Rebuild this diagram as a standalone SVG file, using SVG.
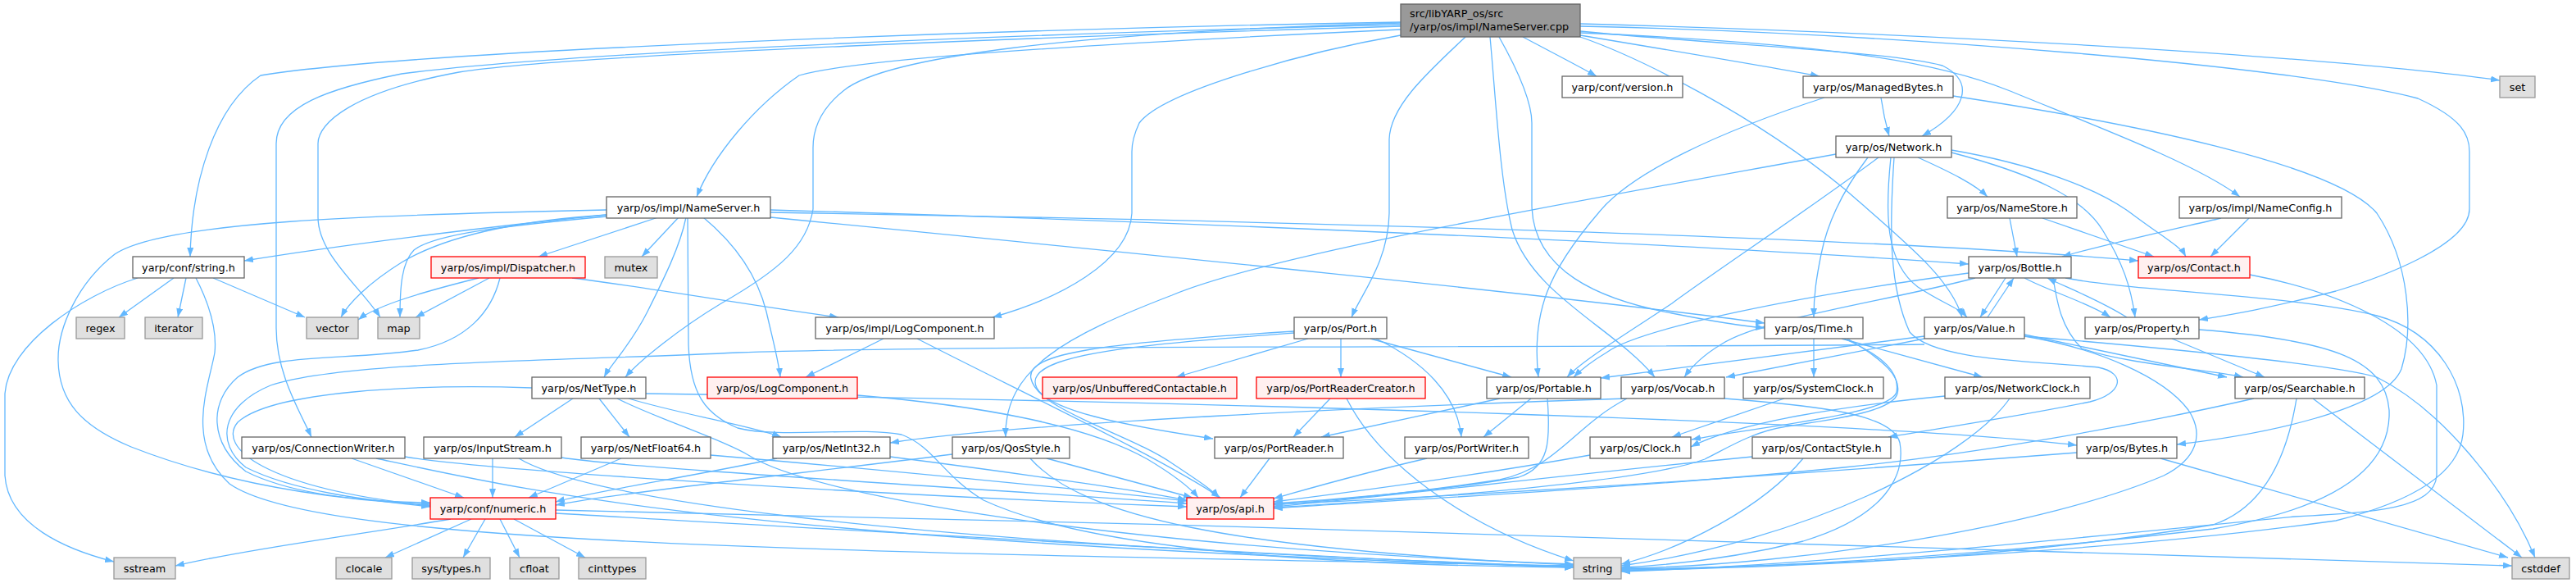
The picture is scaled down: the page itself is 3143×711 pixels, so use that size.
<svg xmlns="http://www.w3.org/2000/svg" width="3143" height="711" viewBox="0 0 3143 711">
<defs>
<marker id="ah" viewBox="0 0 11 8" refX="11" refY="4" markerWidth="11" markerHeight="8" orient="auto" markerUnits="userSpaceOnUse"><path d="M0,0L11,4L0,8z" fill="#63b8ff"/></marker>
</defs>
<style>
.e path{fill:none;stroke:#63b8ff;stroke-width:1.3;marker-end:url(#ah)}
.n rect{fill:#ffffff;stroke:#666666;stroke-width:1.3}
.r rect{fill:#fff0f0;stroke:#ff0000}
.g rect{fill:#e0e0e0;stroke:#999999}
.root rect{fill:#999999;stroke:#666666}
text{font-family:"DejaVu Sans","Liberation Sans",sans-serif;font-size:12.8px;text-anchor:middle;fill:#000000}
.root text{text-anchor:start}
</style>
<rect width="3143" height="711" fill="#ffffff"/>
<g id="edges" class="e">
<path d="M1709,27 C1200,36 500,62 318,92 C262,130 234,220 232,313"/>
<path d="M1709,30 C1300,40 700,62 490,90 C400,108 337,130 337,175 L337,400 C337,455 365,500 380,533"/>
<path d="M1709,32 C1300,44 700,66 560,88 C430,112 388,150 388,175 L388,265 C388,310 440,350 464,387"/>
<path d="M1709,36 C1400,50 1050,70 975,92 C920,130 870,190 850,240"/>
<path d="M1709,28 C1300,40 1080,70 1030,110 C998,135 992,160 992,180 L992,255 C985,300 950,330 880,370 C830,400 780,440 763,460"/>
<path d="M1709,43 C1600,62 1420,110 1390,150 C1383,165 1381,175 1381,185 L1381,260 C1378,320 1290,365 1211,387"/>
<path d="M1788,45 C1740,90 1696,130 1695,170 L1695,260 C1694,320 1660,360 1649,387"/>
<path d="M1818,45 C1825,120 1830,220 1845,280 C1870,360 1970,400 2019,460"/>
<path d="M1829,45 C1860,100 1869,130 1869,150 L1869,250 C1870,330 1950,365 2040,382 C2090,392 2130,398 2153,400"/>
<path d="M1858,45 C1890,62 1925,80 1948,93"/>
<path d="M1928,43 C2030,60 2150,80 2220,93"/>
<path d="M1928,45 C2000,70 2140,140 2250,230 C2330,300 2380,340 2394,387"/>
<path d="M1928,38 C2100,55 2300,62 2370,80 C2410,100 2400,135 2345,166"/>
<path d="M1928,40 C2200,52 2350,70 2450,110 C2560,155 2680,200 2733,240"/>
<path d="M1928,32 C2300,40 2800,80 2950,120 C3005,145 3013,165 3013,185 L3013,255 C3013,300 2900,340 2850,355 C2760,378 2720,384 2683,390"/>
<path d="M1928,29 C2400,42 2850,70 3050,98"/>
<path d="M2295,119 C2298,140 2301,152 2305,166"/>
<path d="M2226,119 C2100,160 1990,210 1950,260 C1890,330 1868,380 1877,460"/>
<path d="M2383,117 C2600,150 2850,200 2900,260 C2940,320 2945,400 2930,450 C2910,500 2760,530 2656,542"/>
<path d="M2340,192 C2380,210 2410,225 2425,240"/>
<path d="M2381,183 C2480,200 2560,230 2600,260 C2640,290 2660,300 2667,313"/>
<path d="M2381,186 C2480,212 2540,240 2565,280 C2590,320 2600,350 2605,387"/>
<path d="M2292,192 C2200,260 2080,340 2040,370 C1980,410 1930,440 1912,460"/>
<path d="M2279,192 C2250,230 2230,270 2222,310 C2216,340 2213,360 2213,387"/>
<path d="M2307,192 C2300,260 2300,320 2340,350 C2370,370 2390,375 2400,387"/>
<path d="M2240,188 C1900,250 1550,310 1430,360 C1300,410 1225,450 1227,533"/>
<path d="M2311,192 C2305,280 2305,350 2330,405 C2360,440 2480,440 2560,448 C2595,455 2590,480 2550,490 C2450,510 2380,520 2304,533"/>
<path d="M740,262 C600,276 420,298 298,318"/>
<path d="M803,265 L657,313"/>
<path d="M828,265 L783,313"/>
<path d="M837,265 C830,300 810,340 790,380 C770,420 745,445 737,460"/>
<path d="M858,265 C900,300 925,340 935,380 C943,415 950,440 952,460"/>
<path d="M839,265 L840,420 C842,480 860,505 900,522 C950,535 1050,520 1100,530 C1140,545 1150,580 1200,610 C1350,680 1700,690 1920,692"/>
<path d="M740,256 C450,262 200,270 140,310 C95,345 70,400 71,440 C72,490 100,520 160,545 C300,600 450,612 525,615"/>
<path d="M740,262 C620,270 540,290 490,320 C450,345 425,370 416,387"/>
<path d="M740,264 C620,275 530,285 505,305 C490,320 488,350 488,387"/>
<path d="M940,256 C1500,272 2100,300 2402,322"/>
<path d="M940,259 C1600,270 2300,290 2609,318"/>
<path d="M940,265 C1400,310 1900,360 2153,394"/>
<path d="M212,339 L145,387"/>
<path d="M227,339 L217,387"/>
<path d="M260,339 L372,387"/>
<path d="M168,339 C100,360 10,420 6,480 L6,580 C10,640 80,670 139,685"/>
<path d="M239,339 C255,370 265,400 262,430 C255,470 225,540 280,590 C380,660 900,672 1920,690"/>
<path d="M584,339 C520,355 460,372 437,390"/>
<path d="M597,339 L507,387"/>
<path d="M698,339 C800,352 900,370 1023,387"/>
<path d="M610,339 C600,380 570,415 510,427 C420,440 330,430 290,460 C255,490 255,540 300,575 C360,605 450,612 525,613"/>
<path d="M2348,420 C1800,425 1200,420 900,430 C700,440 420,440 330,470 C270,495 262,540 300,570 C360,600 450,610 525,618"/>
<path d="M699,486 L628,533"/>
<path d="M731,486 L768,533"/>
<path d="M649,473 C500,468 330,478 290,515 C265,545 320,595 525,617"/>
<path d="M767,486 C830,505 920,520 953,533"/>
<path d="M788,480 C1500,490 2300,515 2534,543"/>
<path d="M753,486 C800,510 880,535 913,555 C1000,610 1400,670 1920,688"/>
<path d="M601,559 L601,607"/>
<path d="M685,558 C760,570 1100,590 1448,614"/>
<path d="M633,559 C700,600 1000,660 1920,691"/>
<path d="M758,559 L645,607"/>
<path d="M867,555 C1100,575 1350,600 1448,611"/>
<path d="M429,559 L566,607"/>
<path d="M494,557 C600,575 1100,605 1448,618"/>
<path d="M459,559 C650,600 900,660 1920,692"/>
<path d="M948,559 C850,580 720,600 678,612"/>
<path d="M1086,557 C1250,578 1400,600 1448,610"/>
<path d="M1277,559 L1455,607"/>
<path d="M1257,559 C1320,630 1500,670 1920,689"/>
<path d="M1162,554 C1000,575 760,600 678,616"/>
<path d="M1078,413 L983,460"/>
<path d="M1119,413 C1250,480 1420,560 1489,607"/>
<path d="M1046,482 C1200,495 1330,520 1400,560 C1430,578 1450,592 1462,607"/>
<path d="M1596,413 L1435,460"/>
<path d="M1636,413 L1636,460"/>
<path d="M1672,413 L1844,460"/>
<path d="M1679,413 C1735,440 1778,480 1783,533"/>
<path d="M1579,406 C1400,420 1265,430 1263,465 C1262,500 1380,520 1480,535"/>
<path d="M1579,404 C1350,418 1250,430 1258,462 C1266,500 1380,530 1430,565 C1460,585 1480,598 1487,607"/>
<path d="M1623,486 L1578,533"/>
<path d="M1643,486 C1680,560 1780,640 1920,684"/>
<path d="M1830,486 L1612,533"/>
<path d="M1868,486 L1810,533"/>
<path d="M1888,486 C1892,540 1890,570 1853,582 C1750,600 1620,610 1554,614"/>
<path d="M1549,559 L1513,607"/>
<path d="M1741,559 C1650,580 1590,598 1554,608"/>
<path d="M1985,486 C1700,495 1250,515 1086,540"/>
<path d="M1985,486 C1920,520 1900,570 1830,585 C1700,605 1600,612 1554,616"/>
<path d="M2104,486 C2220,495 2310,505 2318,540 C2325,580 2300,630 2200,660 C2100,685 2020,690 1978,692"/>
<path d="M2213,413 L2213,460"/>
<path d="M2247,413 L2419,460"/>
<path d="M2250,413 C2300,435 2318,455 2314,478 C2308,505 2150,520 2064,536"/>
<path d="M2254,413 C2300,440 2320,460 2315,480 C2310,500 2250,510 2180,520 C2140,526 2110,545 2080,560 C2000,590 1700,610 1554,619"/>
<path d="M2177,486 L2040,533"/>
<path d="M2373,483 C2250,495 2120,515 2063,545"/>
<path d="M2452,486 C2400,560 2200,660 1978,690"/>
<path d="M1940,555 C1800,580 1650,600 1554,612"/>
<path d="M2138,557 C1900,580 1700,605 1554,618"/>
<path d="M2200,559 C2150,620 2050,670 1978,688"/>
<path d="M2425,387 L2457,339"/>
<path d="M2348,410 L1953,461"/>
<path d="M2348,413 L2106,460"/>
<path d="M2470,408 L2717,460"/>
<path d="M2470,410 C2560,425 2640,460 2670,500 C2690,530 2680,560 2640,580 C2500,640 2200,690 1978,693"/>
<path d="M2470,410 C2650,425 2850,445 2900,460 C2980,500 3060,600 3093,680"/>
<path d="M2447,339 L2416,387"/>
<path d="M2470,339 C2500,355 2550,370 2575,387"/>
<path d="M2402,333 C2200,360 2000,400 1960,430 C1935,445 1925,455 1920,460"/>
<path d="M2505,339 C2510,370 2515,400 2540,425 C2600,445 2690,450 2737,460"/>
<path d="M2410,339 C2300,368 2150,388 2100,420 C2075,435 2062,450 2055,460"/>
<path d="M2520,339 C2600,355 2800,360 2900,385 C2975,405 3012,470 3005,530 C3000,575 2950,610 2850,635 C2600,670 2250,690 1978,694"/>
<path d="M2595,387 C2560,365 2520,350 2498,339"/>
<path d="M2650,413 L2763,460"/>
<path d="M2683,402 C2850,415 2910,440 2915,500 C2918,570 2850,620 2700,645 C2400,680 2150,692 1978,695"/>
<path d="M2750,486 C2600,520 2400,555 2250,570 C2000,595 1700,610 1554,620"/>
<path d="M2802,486 C2790,560 2760,620 2700,640 C2400,690 2100,692 1978,696"/>
<path d="M2822,486 L3077,680"/>
<path d="M2636,559 L3060,680"/>
<path d="M2534,552 C2300,570 1900,600 1554,615"/>
<path d="M2745,335 C2850,355 2960,400 2973,470 L2973,580 C2970,620 2900,625 2800,630 C2500,660 2200,690 1978,697"/>
<path d="M2452,266 L2461,313"/>
<path d="M2492,266 L2628,313"/>
<path d="M2710,266 C2650,280 2560,300 2516,313"/>
<path d="M2744,266 L2697,313"/>
<path d="M550,633 C450,650 300,670 214,690"/>
<path d="M575,633 L470,680"/>
<path d="M592,633 L565,680"/>
<path d="M610,633 L634,680"/>
<path d="M627,633 L714,680"/>
<path d="M678,626 C1100,650 1600,680 1920,692"/>
<path d="M678,622 C1500,640 2500,668 3065,690"/>
</g>
<g id="root" class="n root"><rect x="1709" y="5" width="219" height="40"/><text x="1720" y="21">src/libYARP_os/src</text><text x="1720" y="37">/yarp/os/impl/NameServer.cpp</text></g>
<g id="version" class="n"><rect x="1906" y="93" width="147" height="26"/><text x="1979.5" y="110.5">yarp/conf/version.h</text></g>
<g id="managedbytes" class="n"><rect x="2200" y="93" width="183" height="26"/><text x="2291.5" y="110.5">yarp/os/ManagedBytes.h</text></g>
<g id="set" class="n g"><rect x="3050" y="93" width="43" height="26"/><text x="3071.5" y="110.5">set</text></g>
<g id="network" class="n"><rect x="2240" y="166" width="141" height="26"/><text x="2310.5" y="183.5">yarp/os/Network.h</text></g>
<g id="nameserver" class="n"><rect x="740" y="240" width="200" height="26"/><text x="840" y="257.5">yarp/os/impl/NameServer.h</text></g>
<g id="namestore" class="n"><rect x="2376" y="240" width="158" height="26"/><text x="2455" y="257.5">yarp/os/NameStore.h</text></g>
<g id="nameconfig" class="n"><rect x="2659" y="240" width="198" height="26"/><text x="2758" y="257.5">yarp/os/impl/NameConfig.h</text></g>
<g id="confstring" class="n"><rect x="162" y="313" width="136" height="26"/><text x="230" y="330.5">yarp/conf/string.h</text></g>
<g id="dispatcher" class="n r"><rect x="526" y="313" width="188" height="26"/><text x="620" y="330.5">yarp/os/impl/Dispatcher.h</text></g>
<g id="mutex" class="n g"><rect x="738" y="313" width="64" height="26"/><text x="770" y="330.5">mutex</text></g>
<g id="bottle" class="n"><rect x="2402" y="313" width="125" height="26"/><text x="2464.5" y="330.5">yarp/os/Bottle.h</text></g>
<g id="contact" class="n r"><rect x="2609" y="313" width="136" height="26"/><text x="2677" y="330.5">yarp/os/Contact.h</text></g>
<g id="regex" class="n g"><rect x="93" y="387" width="59" height="26"/><text x="122.5" y="404.5">regex</text></g>
<g id="iterator" class="n g"><rect x="177" y="387" width="70" height="26"/><text x="212" y="404.5">iterator</text></g>
<g id="vector" class="n g"><rect x="374" y="387" width="63" height="26"/><text x="405.5" y="404.5">vector</text></g>
<g id="map" class="n g"><rect x="461" y="387" width="51" height="26"/><text x="486.5" y="404.5">map</text></g>
<g id="impllogcomponent" class="n"><rect x="995" y="387" width="218" height="26"/><text x="1104" y="404.5">yarp/os/impl/LogComponent.h</text></g>
<g id="port" class="n"><rect x="1579" y="387" width="113" height="26"/><text x="1635.5" y="404.5">yarp/os/Port.h</text></g>
<g id="time" class="n"><rect x="2153" y="387" width="120" height="26"/><text x="2213" y="404.5">yarp/os/Time.h</text></g>
<g id="value" class="n"><rect x="2348" y="387" width="122" height="26"/><text x="2409" y="404.5">yarp/os/Value.h</text></g>
<g id="property" class="n"><rect x="2544" y="387" width="139" height="26"/><text x="2613.5" y="404.5">yarp/os/Property.h</text></g>
<g id="nettype" class="n"><rect x="649" y="460" width="139" height="26"/><text x="718.5" y="477.5">yarp/os/NetType.h</text></g>
<g id="logcomponent" class="n r"><rect x="863" y="460" width="183" height="26"/><text x="954.5" y="477.5">yarp/os/LogComponent.h</text></g>
<g id="unbufferedcontactable" class="n r"><rect x="1272" y="460" width="237" height="26"/><text x="1390.5" y="477.5">yarp/os/UnbufferedContactable.h</text></g>
<g id="portreadercreator" class="n r"><rect x="1533" y="460" width="206" height="26"/><text x="1636" y="477.5">yarp/os/PortReaderCreator.h</text></g>
<g id="portable" class="n"><rect x="1814" y="460" width="139" height="26"/><text x="1883.5" y="477.5">yarp/os/Portable.h</text></g>
<g id="vocab" class="n"><rect x="1978" y="460" width="126" height="26"/><text x="2041" y="477.5">yarp/os/Vocab.h</text></g>
<g id="systemclock" class="n"><rect x="2127" y="460" width="171" height="26"/><text x="2212.5" y="477.5">yarp/os/SystemClock.h</text></g>
<g id="networkclock" class="n"><rect x="2373" y="460" width="177" height="26"/><text x="2461.5" y="477.5">yarp/os/NetworkClock.h</text></g>
<g id="searchable" class="n"><rect x="2727" y="460" width="158" height="26"/><text x="2806" y="477.5">yarp/os/Searchable.h</text></g>
<g id="connectionwriter" class="n"><rect x="295" y="533" width="199" height="26"/><text x="394.5" y="550.5">yarp/os/ConnectionWriter.h</text></g>
<g id="inputstream" class="n"><rect x="517" y="533" width="168" height="26"/><text x="601" y="550.5">yarp/os/InputStream.h</text></g>
<g id="netfloat64" class="n"><rect x="709" y="533" width="158" height="26"/><text x="788" y="550.5">yarp/os/NetFloat64.h</text></g>
<g id="netint32" class="n"><rect x="943" y="533" width="143" height="26"/><text x="1014.5" y="550.5">yarp/os/NetInt32.h</text></g>
<g id="qosstyle" class="n"><rect x="1162" y="533" width="143" height="26"/><text x="1233.5" y="550.5">yarp/os/QosStyle.h</text></g>
<g id="portreader" class="n"><rect x="1482" y="533" width="157" height="26"/><text x="1560.5" y="550.5">yarp/os/PortReader.h</text></g>
<g id="portwriter" class="n"><rect x="1714" y="533" width="151" height="26"/><text x="1789.5" y="550.5">yarp/os/PortWriter.h</text></g>
<g id="clock" class="n"><rect x="1940" y="533" width="123" height="26"/><text x="2001.5" y="550.5">yarp/os/Clock.h</text></g>
<g id="contactstyle" class="n"><rect x="2138" y="533" width="169" height="26"/><text x="2222.5" y="550.5">yarp/os/ContactStyle.h</text></g>
<g id="bytes" class="n"><rect x="2534" y="533" width="122" height="26"/><text x="2595" y="550.5">yarp/os/Bytes.h</text></g>
<g id="numeric" class="n r"><rect x="525" y="607" width="153" height="26"/><text x="601.5" y="624.5">yarp/conf/numeric.h</text></g>
<g id="api" class="n r"><rect x="1448" y="607" width="106" height="26"/><text x="1501" y="624.5">yarp/os/api.h</text></g>
<g id="sstream" class="n g"><rect x="139" y="680" width="75" height="26"/><text x="176.5" y="697.5">sstream</text></g>
<g id="clocale" class="n g"><rect x="410" y="680" width="68" height="26"/><text x="444" y="697.5">clocale</text></g>
<g id="systypes" class="n g"><rect x="503" y="680" width="95" height="26"/><text x="550.5" y="697.5">sys/types.h</text></g>
<g id="cfloat" class="n g"><rect x="622" y="680" width="60" height="26"/><text x="652" y="697.5">cfloat</text></g>
<g id="cinttypes" class="n g"><rect x="706" y="680" width="82" height="26"/><text x="747" y="697.5">cinttypes</text></g>
<g id="string" class="n g"><rect x="1920" y="680" width="58" height="26"/><text x="1949" y="697.5">string</text></g>
<g id="cstddef" class="n g"><rect x="3065" y="680" width="70" height="26"/><text x="3100" y="697.5">cstddef</text></g>
</svg>
